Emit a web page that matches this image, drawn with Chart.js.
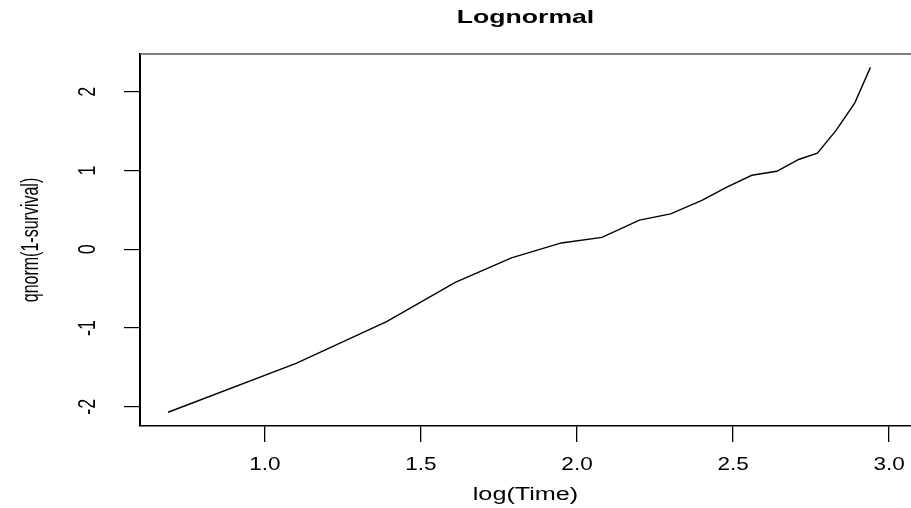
<!DOCTYPE html>
<html>
<head>
<meta charset="utf-8">
<script src="https://cdn.jsdelivr.net/npm/chart.js@4"></script>
<style>
  html, body { margin: 0; padding: 0; background: #fff; }
  #wrap { width: 911px; height: 508px; }
</style>
</head>
<body>
<div id="wrap"><canvas id="myChart"></canvas></div>
<script>
//DATA: LOG SURVIVAL TIMES AND QNORM OF 1-SURVIVAL
let logTime = [0.69, 1.1, 1.39, 1.61, 1.79, 1.95, 2.08, 2.2, 2.3, 2.4, 2.48, 2.56, 2.64, 2.71, 2.77, 2.83, 2.89, 2.94],
  qnormVals = [-2.07, -1.45, -0.92, -0.42, -0.11, 0.08, 0.15, 0.37, 0.45, 0.62, 0.79, 0.94, 0.99, 1.14, 1.22, 1.51, 1.86, 2.31];

let xTicks = [1.0, 1.5, 2.0, 2.5, 3.0],
  xTickLabels = ["1.0", "1.5", "2.0", "2.5", "3.0"],
  yTicks = [-2, -1, 0, 1, 2],
  yTickLabels = ["-2", "-1", "0", "1", "2"];

const FONT = "'Liberation Sans', Arial, Helvetica, sans-serif";

function stretchText(ctx, text, x, y, size, bold, sx, rotate) {
  //DRAW TEXT CENTERED AT X,Y, WIDENED HORIZONTALLY LIKE THE R PNG OUTPUT
  ctx.save();
  ctx.translate(x, y);
  ctx.scale(sx, 1);
  if (rotate) ctx.rotate(-Math.PI / 2);
  ctx.font = (bold ? "bold " : "") + size + "px " + FONT;
  ctx.fillStyle = "#000";
  ctx.textAlign = "center";
  ctx.textBaseline = "middle";
  ctx.fillText(text, 0, 0);
  ctx.restore();
}

const rText = {
  id: "rText",
  afterDraw(chart) {
    const ctx = chart.ctx;
    const area = chart.chartArea;
    const xs = chart.scales.x;
    const ys = chart.scales.y;
    const midX = (area.left + area.right) / 2;
    const midY = (area.top + area.bottom) / 2;

    //BOX: TOP LINE (LEFT AND BOTTOM COME FROM THE AXIS BORDERS)
    ctx.save();
    ctx.strokeStyle = "#555";
    ctx.lineWidth = 1.5;
    ctx.beginPath();
    ctx.moveTo(area.left, area.top);
    ctx.lineTo(area.right, area.top);
    ctx.stroke();
    ctx.restore();

    //TITLE AND AXIS TITLES
    stretchText(ctx, "Lognormal", midX, 18, 19, true, 1.4, false);
    stretchText(ctx, "log(Time)", midX, 495, 18, false, 1.4, false);
    stretchText(ctx, "qnorm(1-survival)", 32, midY, 16, false, 1.45, true);

    //TICK LABELS
    for (let i = 0; i < xTicks.length; i++) {
      stretchText(ctx, xTickLabels[i], xs.getPixelForValue(xTicks[i]), 465, 18, false, 1.25, false);
    }
    for (let i = 0; i < yTicks.length; i++) {
      stretchText(ctx, yTickLabels[i], 88, ys.getPixelForValue(yTicks[i]), 18, false, 1.35, true);
    }
  },
};

const points = logTime.map((v, i) => ({ x: v, y: qnormVals[i] }));

const config = {
  type: "line",
  data: {
    datasets: [
      {
        data: points,
        borderColor: "#000",
        borderWidth: 1.4,
        pointRadius: 0,
        tension: 0,
        fill: false,
      },
    ],
  },
  options: {
    responsive: true,
    maintainAspectRatio: false,
    animation: false,
    layout: { padding: { top: 54, left: 0, right: 0, bottom: 0 } },
    plugins: { legend: { display: false }, tooltip: { enabled: false } },
    scales: {
      x: {
        type: "linear",
        min: 0.6,
        max: 3.07,
        afterBuildTicks: (s) => (s.ticks = xTicks.map((v) => ({ value: v }))),
        afterFit: (s) => (s.height = 82),
        ticks: { display: false },
        grid: { drawOnChartArea: false, drawTicks: true, tickLength: 16, color: "#000", lineWidth: 1.3 },
        border: { display: true, color: "#000", width: 1.5 },
      },
      y: {
        type: "linear",
        min: -2.245,
        max: 2.48,
        afterBuildTicks: (s) => (s.ticks = yTicks.map((v) => ({ value: v }))),
        afterFit: (s) => (s.width = 140),
        ticks: { display: false },
        grid: { drawOnChartArea: false, drawTicks: true, tickLength: 16, color: "#000", lineWidth: 1.2 },
        border: { display: true, color: "#000", width: 2 },
      },
    },
  },
  plugins: [rText],
};

const myChart = new Chart(document.getElementById("myChart"), config);
</script>
</body>
</html>
